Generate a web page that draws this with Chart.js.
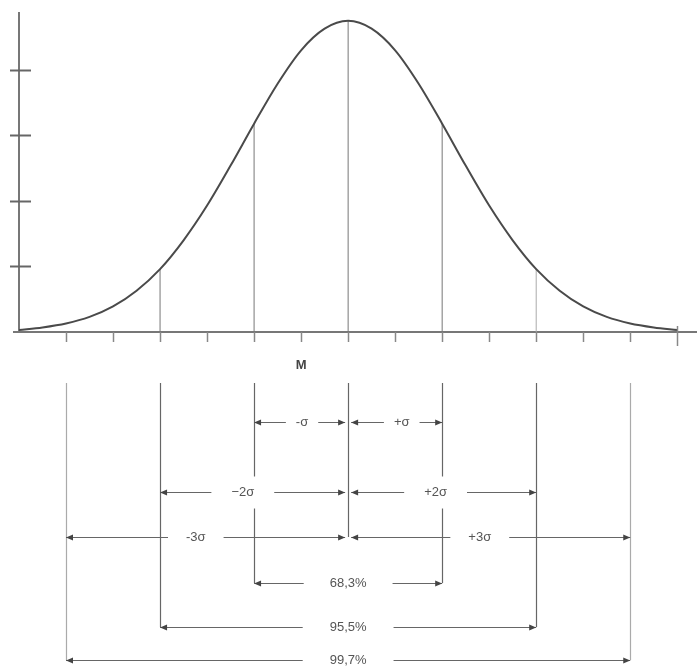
<!DOCTYPE html>
<html><head><meta charset="utf-8">
<script src="https://cdn.jsdelivr.net/npm/chart.js@4"></script>
<style>html,body{margin:0;padding:0;background:#fff;overflow:hidden}#wrap{width:697px;height:666px;position:relative;background:#fff}</style>
</head><body><div id="wrap"><canvas id="c"></canvas></div>
<script>
// ---- data (x in units of sigma, y in axis units) ----
const sigmaPositions = [-3.5,-3.25,-3,-2.75,-2.5,-2.25,-2,-1.75,-1.5,-1.25,-1,-0.75,-0.5,-0.25,0,0.25,0.5,0.75,1,1.25,1.5,1.75,2,2.25,2.5,2.75,3,3.25,3.5];
const densityValues = [0.03,0.07,0.13,0.23,0.39,0.63,0.96,1.40,1.93,2.54,3.18,3.79,4.30,4.63,4.75,4.63,4.30,3.79,3.18,2.54,1.93,1.40,0.96,0.63,0.39,0.23,0.13,0.07,0.03];
const dropSigmas = [-2,-1,0,1,2];
const xTickValues = [-3,-2.5,-2,-1.5,-1,-0.5,0,0.5,1,1.5,2,2.5,3,3.5];
const yTickValues = [1,2,3,4];
const meanLabel = 'M';
const meanLabelAt = -0.5;
const guideSigmas = [-3,-2,-1,0,1,2,3];
const spanLabels = ['-σ','+σ','−2σ','+2σ','-3σ','+3σ','68,3%','95,5%','99,7%'];
const spanFrom = [-1,0,-2,0,-3,0,-1,-2,-3];
const spanTo = [0,1,0,2,0,3,1,2,3];
const spanLabelAt = [-0.49,0.57,-1.12,0.93,-1.62,1.40,0,0,0];

// ---- layout (pixels) ----
const spanRowY = [422,422,492,492,537,537,583,627,660];
const spanGap = [10,10,20,20,18,18,26,27,27];
const guideTop = 383;
const guideBottomByAbs = [537,583,627,660];

const curve = sigmaPositions.map((x,i)=>({x:x,y:densityValues[i]}));
const dropSets = dropSigmas.map(s=>{
  const v = densityValues[sigmaPositions.indexOf(s)];
  return {data:[{x:s,y:0},{x:s,y:v}], borderColor: s===2?'#aaa':'#777', borderWidth:1, pointRadius:0, showLine:true, fill:false, tension:0};
});

const annot = {
  id:'annot',
  afterDraw(chart){
    const ctx = chart.ctx, xs = chart.scales.x, ys = chart.scales.y, ca = chart.chartArea;
    ctx.save();
    ctx.strokeStyle = '#777'; ctx.lineWidth = 2;
    ctx.beginPath(); ctx.moveTo(ca.left-6, ca.bottom); ctx.lineTo(ca.left, ca.bottom); ctx.stroke();
    // y ticks
    ctx.strokeStyle = '#666'; ctx.lineWidth = 2;
    yTickValues.forEach(v=>{
      const py = Math.round(ys.getPixelForValue(v))+0.5;
      ctx.beginPath(); ctx.moveTo(ca.left-9, py); ctx.lineTo(ca.left+12, py); ctx.stroke();
    });
    // x ticks
    ctx.strokeStyle = '#888'; ctx.lineWidth = 1.5;
    xTickValues.forEach((v,i)=>{
      const px = Math.round(xs.getPixelForValue(v))+0.5;
      const last = i===xTickValues.length-1;
      ctx.beginPath(); ctx.moveTo(px, ca.bottom-(last?6:0)); ctx.lineTo(px, ca.bottom+(last?14:10)); ctx.stroke();
    });
    // M label
    ctx.fillStyle = '#444';
    ctx.font = "bold 13px 'Liberation Sans', Arial, sans-serif";
    ctx.textAlign = 'center'; ctx.textBaseline = 'middle';
    ctx.fillText(meanLabel, xs.getPixelForValue(meanLabelAt), 365);
    // guide lines
    guideSigmas.forEach(s=>{
      const px = Math.round(xs.getPixelForValue(s))+0.5;
      ctx.strokeStyle = Math.abs(s)===3 ? '#aaa' : '#666';
      ctx.lineWidth = 1.2;
      ctx.beginPath(); ctx.moveTo(px, guideTop); ctx.lineTo(px, guideBottomByAbs[Math.abs(s)]); ctx.stroke();
    });
    // spans
    ctx.font = "13px 'Liberation Sans Narrow', 'Liberation Sans', Arial, sans-serif";
    spanLabels.forEach((lab,i)=>{
      const y = spanRowY[i] + 0.5;
      let x1 = xs.getPixelForValue(spanFrom[i]);
      let x2 = xs.getPixelForValue(spanTo[i]);
      if (spanFrom[i]===0) x1 += 3;
      if (spanTo[i]===0) x2 -= 3;
      const lx = xs.getPixelForValue(spanLabelAt[i]);
      const tw = ctx.measureText(lab).width;
      const gap = tw/2 + spanGap[i];
      // white-out behind label (breaks guide lines it crosses)
      ctx.fillStyle = '#fff';
      ctx.fillRect(lx - tw/2 - 4, y - 16, tw + 8, 32);
      ctx.strokeStyle = '#666'; ctx.lineWidth = 1.2;
      ctx.beginPath();
      ctx.moveTo(x1, y); ctx.lineTo(Math.max(x1, lx-gap), y);
      ctx.moveTo(Math.min(x2, lx+gap), y); ctx.lineTo(x2, y);
      ctx.stroke();
      ctx.fillStyle = '#444';
      ctx.beginPath(); ctx.moveTo(x1, y); ctx.lineTo(x1+7, y-3); ctx.lineTo(x1+7, y+3); ctx.closePath(); ctx.fill();
      ctx.beginPath(); ctx.moveTo(x2, y); ctx.lineTo(x2-7, y-3); ctx.lineTo(x2-7, y+3); ctx.closePath(); ctx.fill();
      ctx.fillStyle = '#555';
      ctx.fillText(lab, lx, y);
    });
    ctx.restore();
  }
};

new Chart(document.getElementById('c'), {
  type:'scatter',
  data:{datasets:[
    {data:curve, showLine:true, borderColor:'#4a4a4a', borderWidth:2, pointRadius:0, fill:false, cubicInterpolationMode:'monotone'},
    ...dropSets
  ]},
  options:{
    responsive:true, maintainAspectRatio:false, animation:false,
    layout:{padding:{left:19, right:0, top:13, bottom:334}},
    plugins:{legend:{display:false}, tooltip:{enabled:false}},
    scales:{
      x:{type:'linear', min:-3.5, max:3.71,
         ticks:{display:false}, grid:{display:true, drawOnChartArea:false, drawTicks:false},
         border:{display:true, color:'#777', width:2},
         afterFit:s=>{s.height=0;}},
      y:{type:'linear', min:0, max:4.87,
         ticks:{display:false}, grid:{display:true, drawOnChartArea:false, drawTicks:false},
         border:{display:true, color:'#777', width:2},
         afterFit:s=>{s.width=0;}}
    }
  },
  plugins:[annot]
});
</script></body></html>
